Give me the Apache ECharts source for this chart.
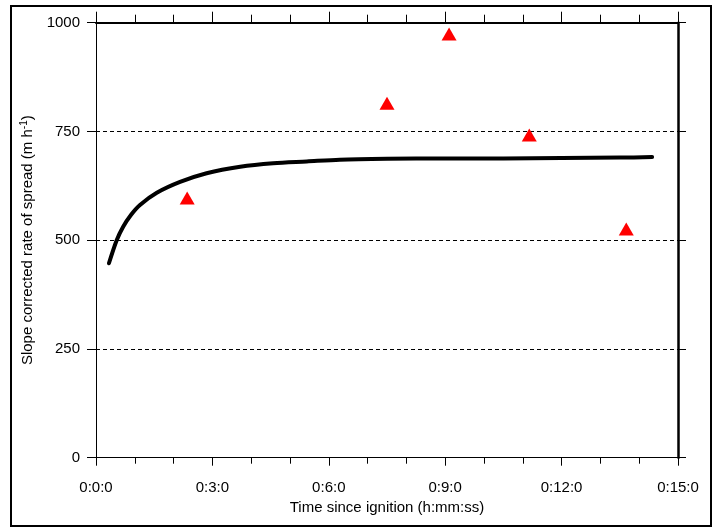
<!DOCTYPE html>
<html>
<head>
<meta charset="utf-8">
<script src="https://cdn.jsdelivr.net/npm/echarts@6/dist/echarts.min.js"></script>
<style>html,body{margin:0;padding:0;background:#fff}#c{width:718px;height:529px}</style>
</head>
<body>
<div id="c"></div>
<script>
// Model curve: time since ignition (s) and slope corrected ROS (m/h)
var curveTime = [20, 32, 42, 54, 68, 94, 130, 171, 223, 274, 326, 377, 450, 540, 630, 720, 810, 860];
var curveRos  = [447, 500, 531, 558, 581, 609, 634, 654, 669, 677, 681, 685, 687, 688, 688, 689, 690, 691];
// Observed points
var obsTime = [141, 450, 546, 670, 820];
var obsRos  = [597, 815, 974, 742, 526];
// Axis ticks
var yTicks = [0, 250, 500, 750, 1000];

var chart = echarts.init(document.getElementById('c'), null, {renderer: 'canvas'});
var font = 'Liberation Sans, Arial, sans-serif';
var fs = 15;
function fmt(v) {
  var m = Math.floor(v / 60), s = Math.round(v % 60);
  return '0:' + m + ':' + s;
}
var curveData = curveTime.map(function (t, i) { return [t, curveRos[i]]; });
var obsData = obsTime.map(function (t, i) { return [t, obsRos[i]]; });

chart.setOption({
  animation: false,
  backgroundColor: '#fff',
  grid: {left: 96, right: 40, top: 22.7, bottom: 71.3, containLabel: false},
  graphic: [{
    type: 'rect', shape: {x: 11, y: 6, width: 700, height: 520},
    style: {fill: 'none', stroke: '#000', lineWidth: 2}, silent: true, z: 100
  }],
  xAxis: [{
    type: 'value', position: 'bottom', min: 0, max: 900, interval: 180,
    name: 'Time since ignition (h:mm:ss)', nameLocation: 'middle', nameGap: 41,
    nameTextStyle: {fontFamily: font, fontSize: fs, color: '#000'},
    axisLine: {show: true, onZero: false, lineStyle: {color: '#000', width: 1}},
    axisTick: {show: true, length: 8, lineStyle: {color: '#000', width: 1}},
    minorTick: {show: true, splitNumber: 3, length: 6, lineStyle: {color: '#000', width: 1}},
    axisLabel: {formatter: fmt, fontFamily: font, fontSize: fs, color: '#000', margin: 23},
    splitLine: {show: false}
  }, {
    type: 'value', position: 'top', min: 0, max: 900, interval: 180,
    axisLine: {show: true, onZero: false, lineStyle: {color: '#000', width: 2}},
    axisTick: {show: true, length: 11, lineStyle: {color: '#000', width: 1}},
    minorTick: {show: true, splitNumber: 3, length: 8, lineStyle: {color: '#000', width: 1}},
    axisLabel: {show: false},
    splitLine: {show: false}
  }],
  yAxis: [{
    type: 'value', position: 'left', min: 0, max: 1000, interval: 250,
    name: '{a|Slope corrected rate of spread (m h}{s|-1}{a|)}',
    nameLocation: 'middle', nameGap: 53,
    nameTextStyle: {
      fontFamily: font, fontSize: fs, color: '#000',
      rich: {
        a: {fontFamily: font, fontSize: fs, color: '#000', lineHeight: 18},
        s: {fontFamily: font, fontSize: 10, color: '#000', verticalAlign: 'top', lineHeight: 18}
      }
    },
    axisLine: {show: true, onZero: false, lineStyle: {color: '#000', width: 1}},
    axisTick: {show: true, length: 9, lineStyle: {color: '#000', width: 1}},
    axisLabel: {formatter: function (v) { return String(v); }, fontFamily: font, fontSize: fs, color: '#000', margin: 16},
    splitLine: {show: true, lineStyle: {color: '#000', width: 1, type: [4, 3]}}
  }, {
    type: 'value', position: 'right', min: 0, max: 1000, interval: 250,
    axisLine: {show: true, onZero: false, lineStyle: {color: '#000', width: 2.5}},
    axisTick: {show: true, length: 8, lineStyle: {color: '#000', width: 1}},
    axisLabel: {show: false},
    splitLine: {show: false}
  }],
  series: [{
    type: 'line', data: curveData, xAxisIndex: 0, yAxisIndex: 0,
    smooth: 0.3, showSymbol: false, symbol: 'none',
    lineStyle: {color: '#000', width: 4, cap: 'round', join: 'round'}, z: 3
  }, {
    type: 'scatter', data: obsData, xAxisIndex: 0, yAxisIndex: 0,
    symbol: 'triangle', symbolSize: [15, 13],
    itemStyle: {color: '#ff0000', opacity: 1}, z: 4
  }]
});
</script>
</body>
</html>
